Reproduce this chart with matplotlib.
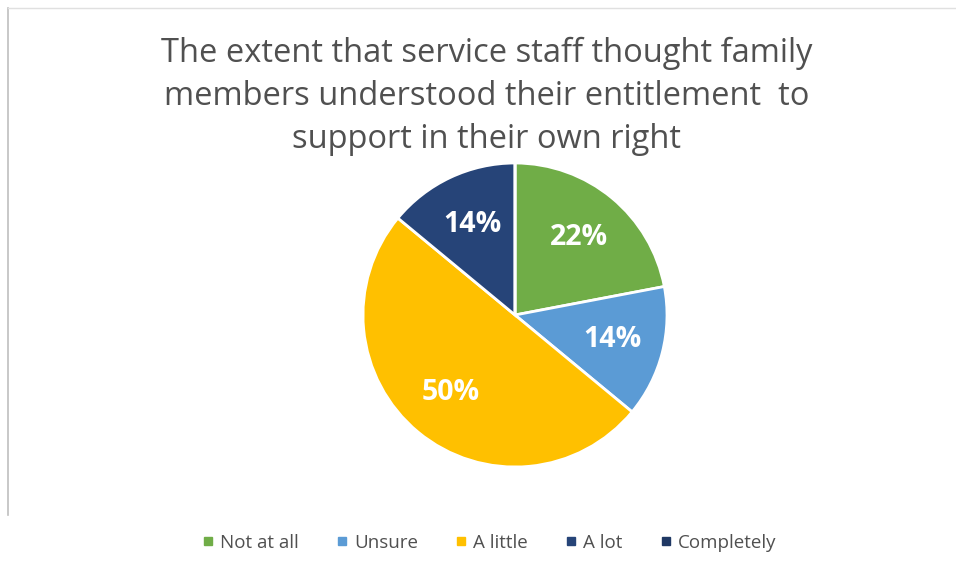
"""
    Pie chart: service staff views on family members' entitlement to support
"""

import matplotlib.pyplot as plt
from matplotlib.lines import Line2D

categories = ['Not at all', 'Unsure', 'A little', 'A lot', 'Completely']
shares = [22, 14, 50, 14, 0]
colors = ['#70AD47', '#5B9BD5', '#FFC000', '#264478', '#1F3864']

title = ('The extent that service staff thought family\n'
         'members understood their entitlement  to\n'
         'support in their own right')

plt.rcParams['font.family'] = ['Open Sans', 'DejaVu Sans']

fig = plt.figure(figsize=(9.56, 5.75), dpi=100)
fig.patch.set_facecolor('white')

# Pie area: centre about (515, 315) px, radius about 152 px
ax = fig.add_axes([(515 - 152) / 956, 1 - (315 + 152) / 575, 304 / 956, 304 / 575])
wedges, texts, autotexts = ax.pie(
    shares, colors=colors, startangle=90, counterclock=False,
    autopct=lambda p: '%d%%' % round(p) if p > 0 else '',
    pctdistance=0.66,
    wedgeprops=dict(edgecolor='white', linewidth=2),
    textprops=dict(color='white', fontsize=20.5, fontweight='bold'))
ax.set_xlim(-1, 1)
ax.set_ylim(-1, 1)
ax.set_aspect('equal')

fig.text(0.509, 1 - 96 / 575, title, ha='center', va='center',
         fontsize=23.5, color='#505050', linespacing=1.4)

# Legend across the bottom
handles = [Line2D([0], [0], marker='s', linestyle='', markersize=6,
                  markerfacecolor=c, markeredgecolor=c) for c in colors]
fig.legend(handles, categories, loc='center', bbox_to_anchor=(0.51, 1 - 543 / 575),
           ncol=5, frameon=False, fontsize=13.5, labelcolor='#505050',
           handletextpad=0.15, columnspacing=1.8, handlelength=1.0)

# Light frame on the left and top edges
fig.add_artist(Line2D([8 / 956, 8 / 956], [1 - 515 / 575, 1 - 8 / 575],
                      color='#BFBFBF', linewidth=1.2))
fig.add_artist(Line2D([8 / 956, 1], [1 - 8 / 575, 1 - 8 / 575],
                      color='#E0E0E0', linewidth=1))

fig.savefig('out.png', dpi=100, facecolor='white')
